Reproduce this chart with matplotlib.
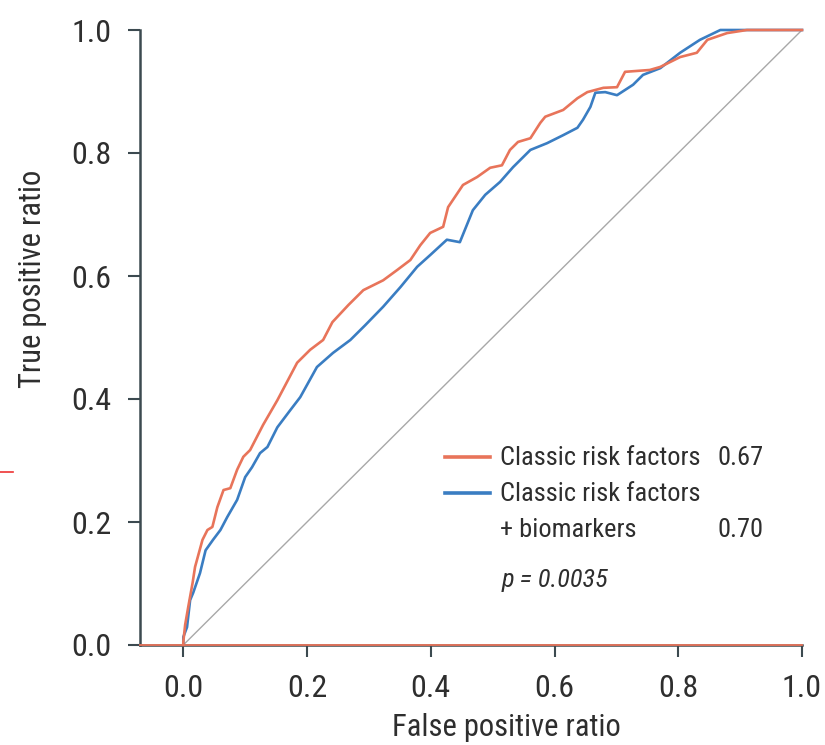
import matplotlib
matplotlib.use("Agg")
import matplotlib.pyplot as plt
from matplotlib.lines import Line2D

plt.rcParams["font.family"] = ["Roboto Condensed", "Archivo Narrow", "PT Sans Narrow",
                               "Fira Sans Condensed", "DejaVu Sans"]

# ROC curve for classic risk factors (AUC 0.67)
fpr_classic = [0.0, 0.0, 0.003, 0.008, 0.015, 0.019, 0.031, 0.039, 0.047, 0.055,
               0.065, 0.076, 0.087, 0.097, 0.108, 0.129, 0.152, 0.184, 0.205, 0.226,
               0.241, 0.267, 0.291, 0.323, 0.346, 0.367, 0.383, 0.399, 0.420, 0.428,
               0.452, 0.475, 0.496, 0.515, 0.528, 0.541, 0.561, 0.577, 0.585, 0.614,
               0.637, 0.653, 0.679, 0.701, 0.714, 0.754, 0.771, 0.803, 0.830, 0.847,
               0.879, 0.911, 1.0]
tpr_classic = [0.0, 0.005, 0.033, 0.062, 0.101, 0.127, 0.171, 0.187, 0.192, 0.224,
               0.252, 0.255, 0.285, 0.306, 0.317, 0.358, 0.398, 0.459, 0.480, 0.496,
               0.525, 0.553, 0.577, 0.593, 0.610, 0.626, 0.650, 0.670, 0.680, 0.712,
               0.748, 0.761, 0.776, 0.780, 0.805, 0.818, 0.824, 0.849, 0.859, 0.870,
               0.889, 0.899, 0.906, 0.907, 0.932, 0.935, 0.940, 0.956, 0.963, 0.984,
               0.995, 1.0, 1.0]

# ROC curve for classic risk factors + biomarkers (AUC 0.70)
fpr_bio = [0.0, 0.0, 0.006, 0.011, 0.016, 0.027, 0.036, 0.048, 0.060, 0.071,
           0.087, 0.100, 0.111, 0.124, 0.136, 0.152, 0.173, 0.189, 0.216, 0.242,
           0.270, 0.294, 0.323, 0.351, 0.378, 0.399, 0.426, 0.447, 0.468, 0.488,
           0.512, 0.533, 0.561, 0.588, 0.614, 0.637, 0.646, 0.658, 0.666, 0.682,
           0.701, 0.727, 0.743, 0.771, 0.803, 0.835, 0.868, 1.0]
tpr_bio = [0.0, 0.013, 0.029, 0.073, 0.085, 0.117, 0.154, 0.171, 0.187, 0.208,
           0.236, 0.273, 0.289, 0.312, 0.322, 0.354, 0.382, 0.403, 0.452, 0.475,
           0.496, 0.520, 0.550, 0.582, 0.615, 0.634, 0.659, 0.655, 0.707, 0.732,
           0.753, 0.777, 0.805, 0.816, 0.829, 0.841, 0.854, 0.875, 0.898, 0.899,
           0.894, 0.911, 0.927, 0.938, 0.963, 0.984, 1.0, 1.0]

ticks = [0.0, 0.2, 0.4, 0.6, 0.8, 1.0]
auc_classic = "0.67"
auc_bio = "0.70"
p_text = "p = 0.0035"

red = "#e8745a"
blue = "#3a7dc2"
axis_col = "#3c4a50"
text_col = "#2e2e2e"

fig = plt.figure(figsize=(8.25, 7.45), dpi=100)
ax = fig.add_axes([140/825, 1 - 645/745, 662/825, 615/745])

ax.plot([0, 1], [0, 1], color="#a8a8a8", lw=1.0, zorder=1)
ax.plot(fpr_classic, tpr_classic, color=red, lw=1.9, zorder=3, clip_on=False)
ax.plot(fpr_bio, tpr_bio, color=blue, lw=1.9, zorder=2, clip_on=False)
ax.axhline(0, color=red, lw=1.3, zorder=4, clip_on=False)

ax.set_xlim(-0.07, 1.0)
ax.set_ylim(0, 1.0)
ax.set_xticks(ticks)
ax.set_yticks(ticks)
ax.set_xticklabels([f"{t:.1f}" for t in ticks])
ax.set_yticklabels([f"{t:.1f}" for t in ticks])

for s in ["top", "right"]:
    ax.spines[s].set_visible(False)
for s in ["left", "bottom"]:
    ax.spines[s].set_color(axis_col)
    ax.spines[s].set_linewidth(1.8)
ax.tick_params(direction="out", length=8.6, width=1.5, color=axis_col,
               labelsize=23, labelcolor=text_col, pad=12)

ax.set_xlabel("False positive ratio", fontsize=22, color=text_col)
ax.set_ylabel("True positive ratio", fontsize=22, color=text_col)
ax.xaxis.label.set_va("center")
ax.yaxis.label.set_va("center")
ax.xaxis.set_label_coords(0.553, -0.134)
ax.yaxis.set_label_coords(-0.162, 0.595)

# legend block drawn by hand so the AUC values line up in a column
tr = ax.transAxes
ax.add_line(Line2D([0.461, 0.529], [0.306, 0.306], color=red, lw=2.6, transform=tr))
ax.add_line(Line2D([0.461, 0.529], [0.247, 0.247], color=blue, lw=2.6, transform=tr))
ax.text(0.544, 0.304, "Classic risk factors", transform=tr, fontsize=19,
        color=text_col, va="center")
ax.text(0.873, 0.304, auc_classic, transform=tr, fontsize=19, color=text_col, va="center")
ax.text(0.544, 0.2455, "Classic risk factors", transform=tr, fontsize=19,
        color=text_col, va="center")
ax.text(0.544, 0.187, "+ biomarkers", transform=tr, fontsize=19,
        color=text_col, va="center")
ax.text(0.873, 0.187, auc_bio, transform=tr, fontsize=19, color=text_col, va="center")
ax.text(0.547, 0.106, p_text, transform=tr, fontsize=19, color=text_col,
        va="center", style="italic")

fig.add_artist(Line2D([0, 13/825], [1 - 472/745, 1 - 472/745], color="#ee3333", lw=1.2))

fig.savefig("out.png", dpi=100)
